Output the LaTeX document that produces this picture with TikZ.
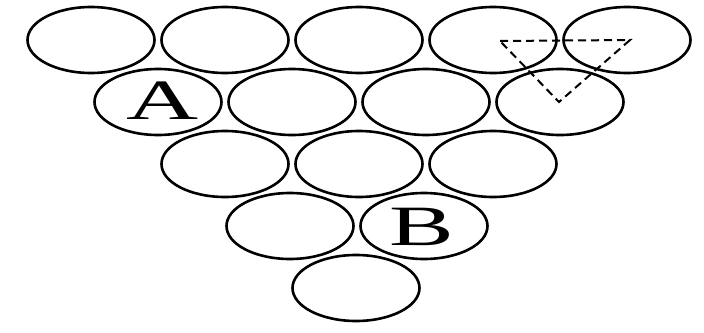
\documentclass[tikz,border=0pt]{standalone}
\usepackage{fontspec}
\setmainfont{Liberation Serif}
\usetikzlibrary{shapes.geometric,calc}
\tikzset{
  ball/.style={ellipse, draw=black, line width=2.6pt, minimum width=127pt, minimum height=66pt, inner sep=0pt},
  lab/.style={font=\fontsize{57}{57}\selectfont},
  guide/.style={draw=black, line width=2pt, dash pattern=on 8pt off 5pt}
}
\begin{document}
\begin{tikzpicture}[x=1pt,y=-1pt]
\useasboundingbox (0,0) rectangle (704,332);
% row 1
\node[ball] (r11) at (91,40) {};
\node[ball] (r12) at (225,40) {};
\node[ball] (r13) at (359,40) {};
\node[ball] (r14) at (493,40) {};
\node[ball] (r15) at (627,40) {};
% row 2
\node[ball] (r21) at (158,102) {};
\node[ball] (r22) at (292,102) {};
\node[ball] (r23) at (426,102) {};
\node[ball] (r24) at (560,102) {};
% row 3
\node[ball] (r31) at (225,164) {};
\node[ball] (r32) at (359,164) {};
\node[ball] (r33) at (493,164) {};
% row 4
\node[ball] (r41) at (290,226) {};
\node[ball] (r42) at (424,226) {};
% row 5
\node[ball] (r51) at (356,288) {};
% labels
\node[lab] (A) at (163,101) {\scalebox{1.75}[1]{A}};
\node[lab] (B) at (422,227) {\scalebox{1.7}[1]{B}};
% dashed triangle
\coordinate (t1) at ($(r14.center)+(7,1)$);
\coordinate (t2) at ($(r15.center)+(3,0)$);
\coordinate (t3) at ($(r24.center)+(-1,0)$);
\draw[guide] (t1) -- (t2) -- (t3) -- cycle;
\end{tikzpicture}
\end{document}
